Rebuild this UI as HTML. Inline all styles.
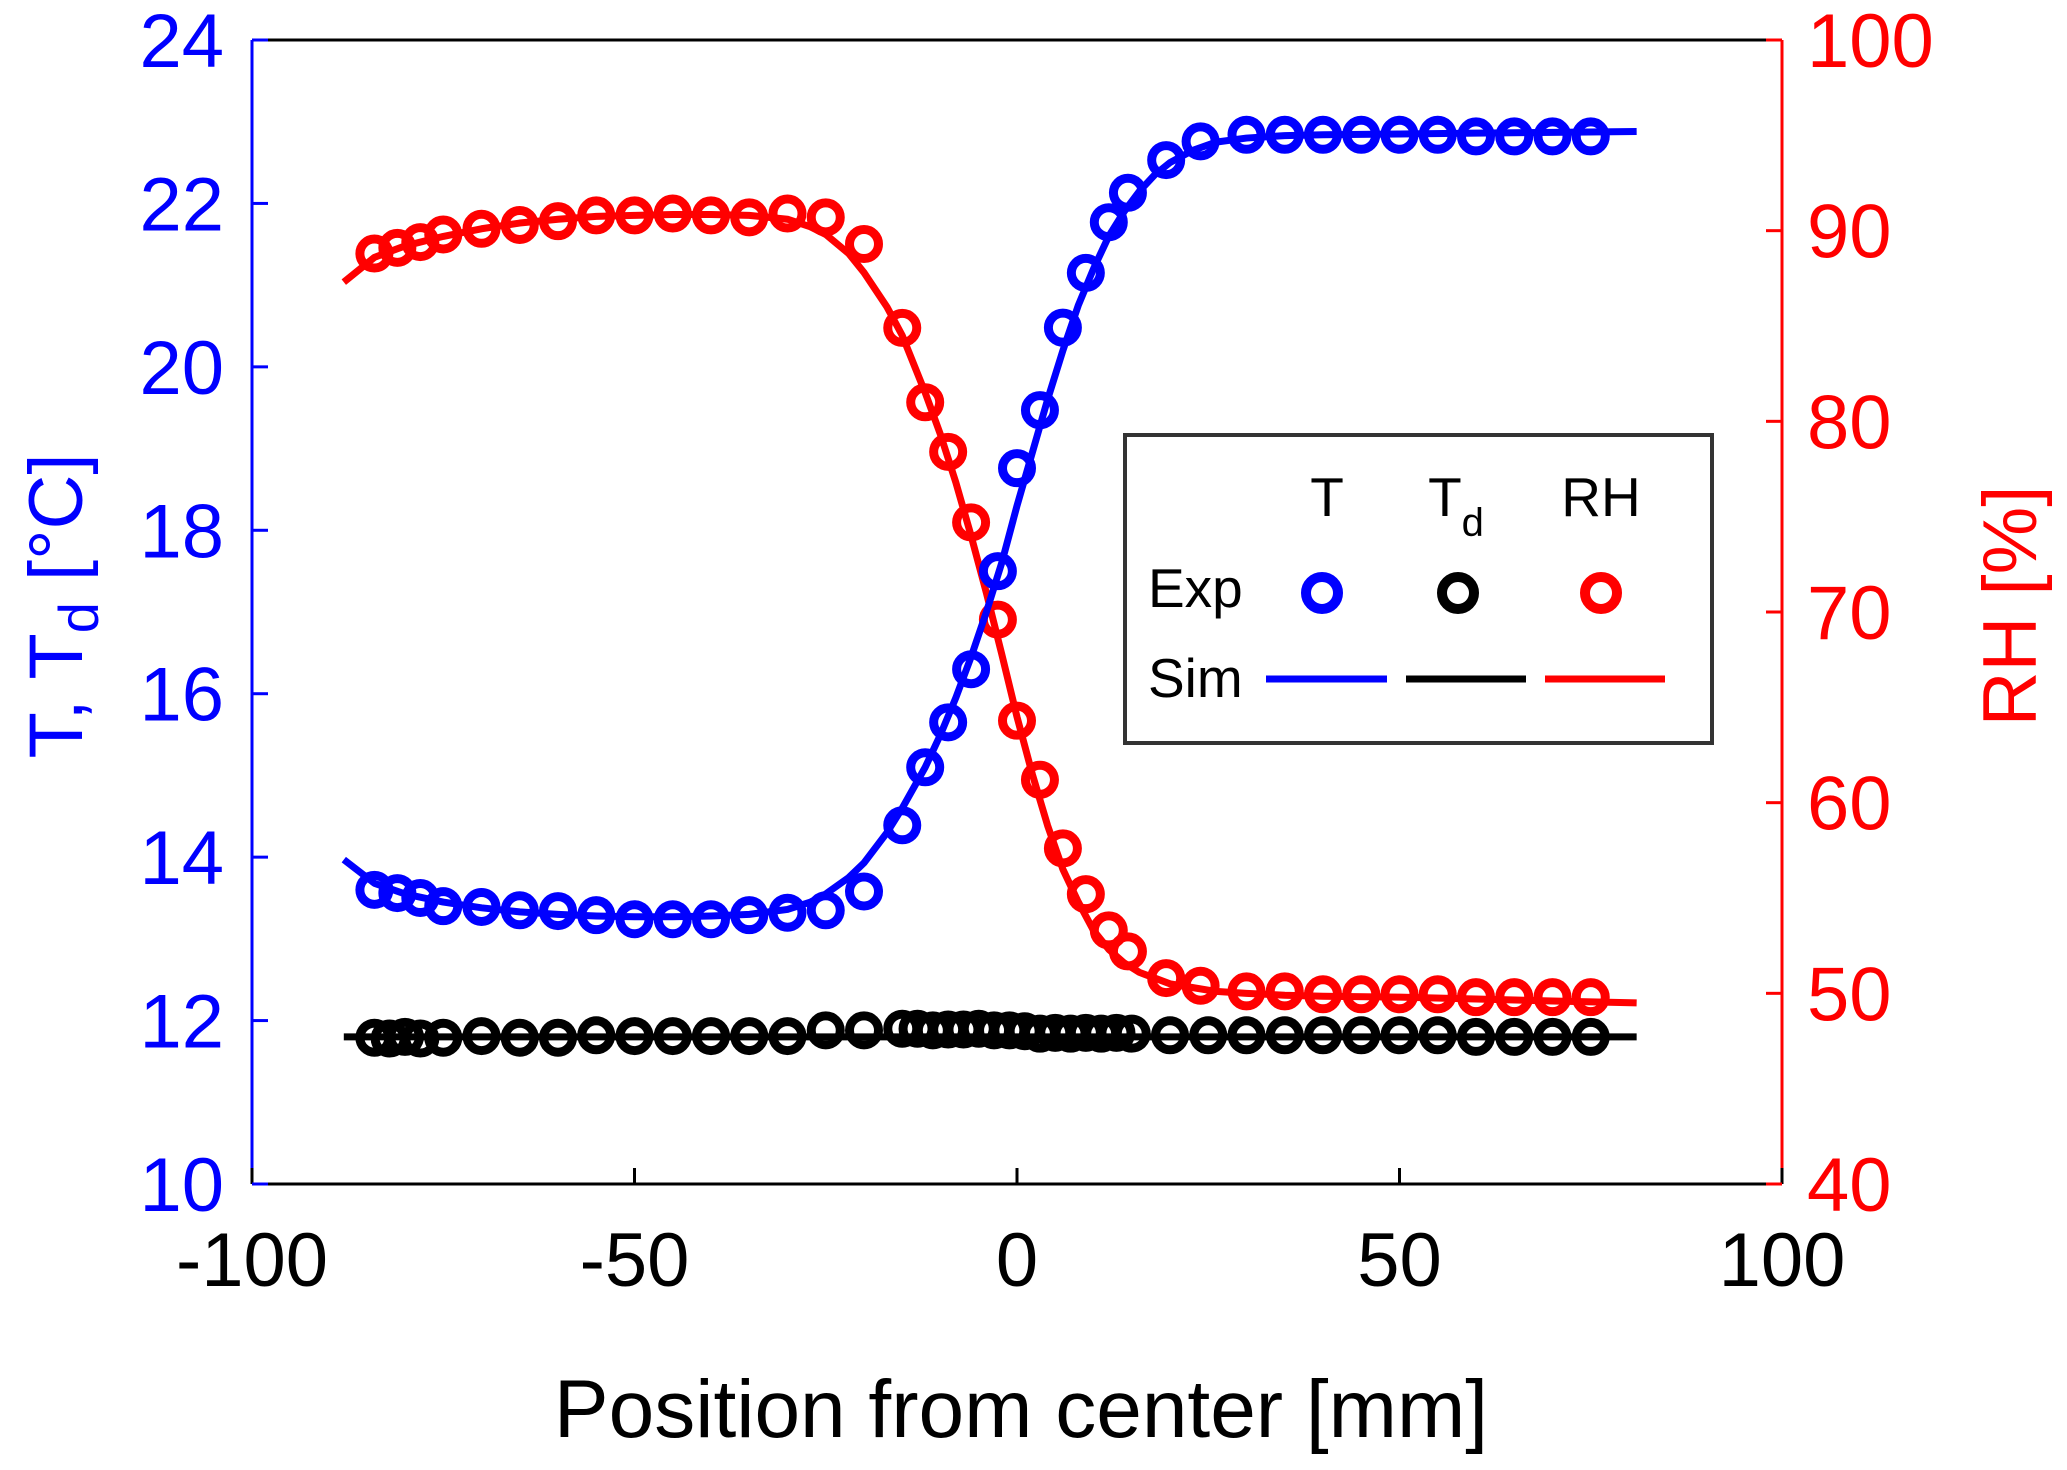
<!DOCTYPE html>
<html><head><meta charset="utf-8"><style>
html,body{margin:0;padding:0;background:#fff}
svg{display:block;font-family:"Liberation Sans",Arial,sans-serif}
</style></head><body>
<svg id="chart" width="2067" height="1470" viewBox="0 0 2067 1470" xmlns="http://www.w3.org/2000/svg"></svg>
<script>
const xTicks=[-100,-50,0,50,100];
const tTicks=[10,12,14,16,18,20,22,24];
const rhTicks=[40,50,60,70,80,90,100];
const expX=[-84,-81,-78,-75,-70,-65,-60,-55,-50,-45,-40,-35,-30,-25,-20,-15,-12,-9,-6,-2.5,0,3,6,9,12,14.5,19.5,24,30,35,40,45,50,55,60,65,70,75];
const expT=[13.6,13.56,13.5,13.4,13.39,13.35,13.34,13.29,13.24,13.24,13.24,13.29,13.32,13.35,13.58,14.39,15.1,15.65,16.3,17.5,18.76,19.47,20.48,21.15,21.77,22.13,22.53,22.76,22.84,22.84,22.84,22.84,22.84,22.84,22.82,22.82,22.82,22.82];
const expRH=[88.8,89.1,89.4,89.8,90.1,90.3,90.5,90.8,90.8,90.9,90.8,90.7,90.9,90.7,89.3,84.9,81.0,78.4,74.7,69.6,64.3,61.2,57.6,55.2,53.3,52.2,50.8,50.4,50.1,50.1,49.95,49.95,49.95,49.95,49.8,49.8,49.8,49.8];
const tdX=[-84,-82,-80,-78,-75,-70,-65,-60,-55,-50,-45,-40,-35,-30,-25,-20,-15,-13,-11,-9,-7,-5,-3,-1,1,3,5,7,9,11,13,15,20,25,30,35,40,45,50,55,60,65,70,75];
const tdVals=[11.79,11.78,11.8,11.78,11.79,11.81,11.79,11.79,11.82,11.81,11.81,11.81,11.81,11.81,11.88,11.88,11.9,11.9,11.88,11.89,11.89,11.9,11.88,11.88,11.87,11.84,11.85,11.84,11.85,11.84,11.85,11.84,11.82,11.82,11.82,11.82,11.82,11.82,11.82,11.82,11.8,11.8,11.8,11.8];
const simX=[-88,-84,-80,-75,-70,-65,-60,-55,-50,-45,-40,-35,-30,-27,-25,-22,-20,-17,-15,-12,-10,-8,-6,-4,-2,0,2,4,6,8,10,12,14,16,18,20,23,26,30,35,40,50,60,70,81];
const simT=[13.97,13.68,13.55,13.45,13.38,13.33,13.3,13.28,13.27,13.27,13.28,13.3,13.36,13.45,13.55,13.75,13.93,14.3,14.6,15.1,15.5,15.95,16.45,17.0,17.6,18.3,18.95,19.6,20.2,20.75,21.2,21.6,21.9,22.15,22.35,22.5,22.65,22.75,22.8,22.83,22.84,22.85,22.86,22.87,22.88];
const simRH=[87.3,88.6,89.2,89.7,90.1,90.4,90.6,90.75,90.8,90.85,90.85,90.8,90.6,90.2,89.8,88.8,87.8,86.0,84.5,81.5,79.3,76.8,74.0,71.0,67.8,64.5,61.5,58.8,56.5,54.8,53.3,52.3,51.6,51.1,50.8,50.5,50.3,50.1,50.0,49.9,49.85,49.8,49.7,49.6,49.5];
const simTdX=[-88,81];
const simTd=[11.8,11.8];

const L=252,R=1782,T=40,B=1184;
const sx=v=>L+(v+100)/200*(R-L);
const syT=v=>B-(v-10)/14*(B-T);
const syRH=v=>B-(v-40)/60*(B-T);
const svg=document.getElementById('chart');
const NS='http://www.w3.org/2000/svg';
function mk(tag,attrs,parent){const e=document.createElementNS(NS,tag);for(const k in attrs)e.setAttribute(k,attrs[k]);(parent||svg).appendChild(e);return e;}

let e;
e=mk('line',{x1:L,y1:T,x2:R,y2:T,stroke:'#000','stroke-width':3});


e=mk('line',{x1:L,y1:B,x2:R,y2:B,stroke:'#000','stroke-width':3});


e=mk('line',{x1:L,y1:T,x2:L,y2:B,stroke:'#00f','stroke-width':3});


e=mk('line',{x1:R,y1:T,x2:R,y2:B,stroke:'#f00','stroke-width':3});



xTicks.forEach(v=>{
  const x=sx(v);
  const tk=mk('line',{x1:x,y1:B,x2:x,y2:B-16,stroke:'#000','stroke-width':3});
  
  
  const t=mk('text',{x:x,y:B+102,'text-anchor':'middle','font-size':76,fill:'#000'});
  t.textContent=v;
  
  
});
tTicks.forEach(v=>{
  const y=syT(v);
  const tk=mk('line',{x1:L,y1:y,x2:L+16,y2:y,stroke:'#00f','stroke-width':3});
  
  
  const t=mk('text',{x:L-28,y:y+27,'text-anchor':'end','font-size':76,fill:'#00f'});
  t.textContent=v;
  
  
});
rhTicks.forEach(v=>{
  const y=syRH(v);
  const tk=mk('line',{x1:R,y1:y,x2:R-16,y2:y,stroke:'#f00','stroke-width':3});
  
  
  const t=mk('text',{x:R+25,y:y+27,'text-anchor':'start','font-size':76,fill:'#f00'});
  t.textContent=v;
  
  
});

e=mk('text',{x:1021,y:1437,'text-anchor':'middle','font-size':82,fill:'#000'});
e.textContent='Position from center [mm]';


e=mk('text',{x:0,y:0,'text-anchor':'middle','font-size':76,fill:'#00f',transform:'translate(82,606) rotate(-90)'});
e.innerHTML='T, T<tspan font-size="56" dy="16">d</tspan><tspan dy="-16"> [°C]</tspan>';


e=mk('text',{x:0,y:0,'text-anchor':'middle','font-size':76,fill:'#f00',transform:'translate(2036,606) rotate(-90)'});
e.textContent='RH [%]';



function line(xs,ys,fy,color,name){
  const pts=xs.map((v,i)=>sx(v)+','+fy(ys[i])).join(' ');
  const p=mk('polyline',{points:pts,fill:'none',stroke:color,'stroke-width':7,'stroke-linejoin':'round'});
  
  
}
function pts(xs,ys,fy,color,name){
  xs.forEach((v,i)=>{
    const c=mk('circle',{cx:sx(v),cy:fy(ys[i]),r:14.5,fill:'none',stroke:color,'stroke-width':9});
    
    
  });
}
line(simTdX,simTd,syT,'#000','sim-td-line');
pts(tdX,tdVals,syT,'#000','exp-td-point');
line(simX,simRH,syRH,'#f00','sim-rh-line');
pts(expX,expRH,syRH,'#f00','exp-rh-point');
line(simX,simT,syT,'#00f','sim-t-line');
pts(expX,expT,syT,'#00f','exp-t-point');

const lg=mk('g',{});


e=mk('rect',{x:1125,y:435,width:587,height:308,fill:'#fff',stroke:'#333','stroke-width':4},lg);


const labs=[['T',1327],['Td',1456],['RH',1601]];
labs.forEach(([s,x])=>{
  const t=mk('text',{x:x,y:516,'text-anchor':'middle','font-size':55,fill:'#000'},lg);
  if(s==='Td'){t.innerHTML='T<tspan font-size="40" dy="20">d</tspan>';}else t.textContent=s;
  
  
});
e=mk('text',{x:1148,y:607,'font-size':55,fill:'#000'},lg);e.textContent='Exp';


e=mk('text',{x:1148,y:697,'font-size':55,fill:'#000'},lg);e.textContent='Sim';


[['#00f',1322],['#000',1458],['#f00',1601]].forEach(([c,x])=>{
  const m=mk('circle',{cx:x,cy:593,r:16,fill:'none',stroke:c,'stroke-width':10},lg);
  
  
});
[['#00f',1266,1387],['#000',1406,1526],['#f00',1545,1665]].forEach(([c,a,b])=>{
  const l=mk('line',{x1:a,y1:679,x2:b,y2:679,stroke:c,'stroke-width':7},lg);
  
  
});
</script>
</body></html>
